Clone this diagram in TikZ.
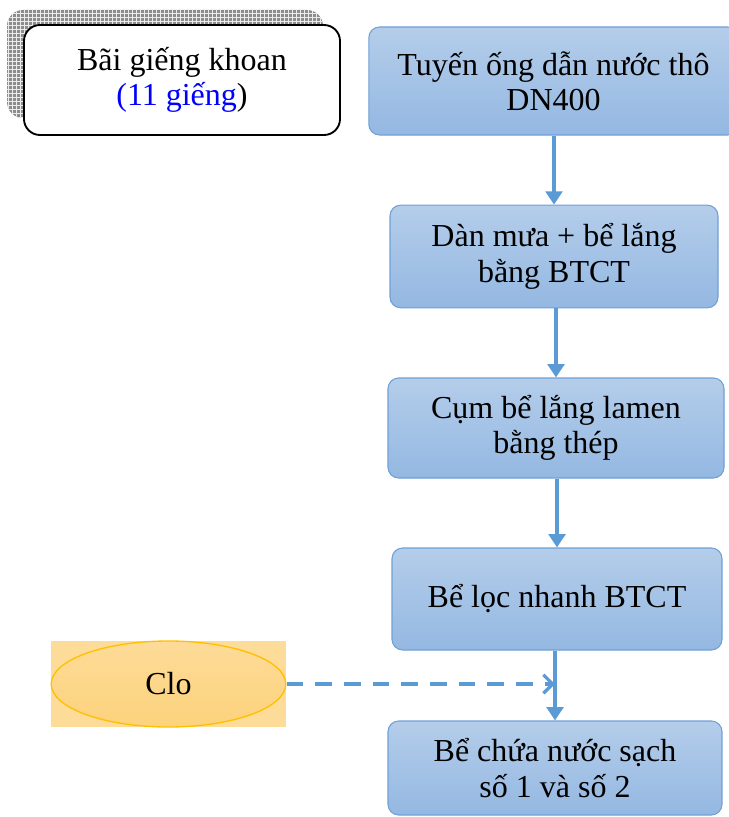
\documentclass[tikz,border=0pt]{standalone}
\usepackage{fontspec}
\setmainfont{Liberation Serif}
\usetikzlibrary{shapes.geometric,arrows.meta,positioning,patterns}
\definecolor{boxtop}{RGB}{180,205,234}
\definecolor{boxbot}{RGB}{148,184,226}
\definecolor{boxline}{RGB}{112,160,214}
\definecolor{flow}{RGB}{91,155,213}
\definecolor{clotop}{RGB}{253,219,152}
\definecolor{clobot}{RGB}{252,210,124}
\definecolor{cloline}{RGB}{255,192,0}
\tikzset{stage/.style={rectangle, draw=boxline, line width=0.8pt, top color=boxtop, bottom color=boxbot,
 rounded corners=8pt, align=center, inner sep=0pt}}
\tikzset{source/.style={rectangle, draw=black, line width=1.4pt, fill=white, rounded corners=12pt,
 align=center, minimum width=237pt, minimum height=82.5pt}}
\tikzset{dose/.style={ellipse, draw=cloline, line width=1pt, top color=clotop, bottom color=clobot,
 minimum width=176pt, minimum height=64.5pt}}
\tikzset{line/.style={draw=flow, line width=2.8pt, -{Triangle[width=12.5pt,length=10pt]}}}
\tikzset{feed/.style={draw=flow, line width=2.8pt, dash pattern=on 12.5pt off 9pt,
 -{Straight Barb[width=14pt,length=7pt,line width=2.4pt]}}}

\begin{document}
\begin{tikzpicture}[x=0.75pt,y=-0.75pt,font=\fontsize{24}{26.5}\selectfont]
        \useasboundingbox (0,0) rectangle (728,817);
        % shadow of the well field box
        \fill[gray!90, rounded corners=12pt] (7,10) rectangle (323,118);
        \path[pattern=grid, pattern color=white!85!gray, rounded corners=12pt] (7,10) rectangle (323,118);

        \node[source]   (well) at (182,80) {B\~ai giếng khoan\\\textcolor{blue}{(11 giếng}{)}};
        \node[stage, minimum width=277pt, minimum height=81pt]   (pipe) at (553.5,81) {Tuyến ống dẫn nước thô\\DN400};
        \node[stage, minimum width=246pt, minimum height=77pt]   (aer) at (554,256.5) {Dàn mưa + bể lắng\\bằng BTCT};
        \node[stage, minimum width=252pt, minimum height=75pt]   (lam) at (556,428) {Cụm bể lắng lamen\\bằng thép};
        \node[stage, minimum width=247.5pt, minimum height=76.5pt]   (filt) at (557,599) {Bể lọc nhanh BTCT};
        \node[stage, minimum width=250.5pt, minimum height=70.5pt]   (tank) at (555,768) {Bể chứa nước sạch\\số 1 và số 2};

        % chlorine
        \fill[clotop] (51,641) rectangle (286,727);
        \node[dose]   (clo) at (168.5,684) {Clo};
        \coordinate (mix) at (filt.south -| tank.north);

        \path[line] (pipe.south -| aer.north) --          (aer.north);
        \path[line] (aer.south -| lam.north) --          (lam.north);
        \path[line] (lam.south -| filt.north) --          (filt.north);
        \path[line] (mix) --          (tank.north);
        \path[feed] (clo.east) --          (clo.east -| mix);
      \end{tikzpicture}
\end{document}
